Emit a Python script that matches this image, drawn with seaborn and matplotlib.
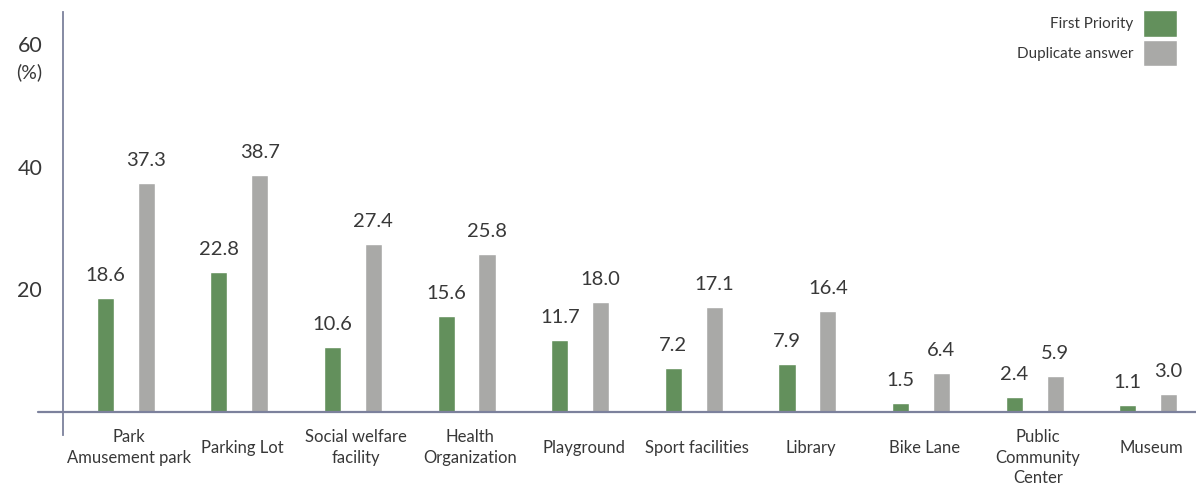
import matplotlib
matplotlib.use("Agg")
import matplotlib.pyplot as plt
import seaborn as sns
import pandas as pd
import numpy as np

# Facility categories and survey shares (%)
categories = [
    "Park\nAmusement park", "Parking Lot", "Social welfare\nfacility",
    "Health\nOrganization", "Playground", "Sport facilities", "Library",
    "Bike Lane", "Public\nCommunity\nCenter", "Museum",
]
first_priority = [18.6, 22.8, 10.6, 15.6, 11.7, 7.2, 7.9, 1.5, 2.4, 1.1]
duplicate_answer = [37.3, 38.7, 27.4, 25.8, 18.0, 17.1, 16.4, 6.4, 5.9, 3.0]
series_names = ["First Priority", "Duplicate answer"]
y_ticks = [20, 40, 60]

GREEN = "#63905c"
GRAY = "#a9a9a7"
AXIS = "#7c819c"
TEXT = "#383838"

sns.set_theme(style="white")
plt.rcParams["font.family"] = ["Lato", "DejaVu Sans"]

df = pd.DataFrame({
    "category": categories * 2,
    "series": [series_names[0]] * len(categories) + [series_names[1]] * len(categories),
    "value": first_priority + duplicate_answer,
})

W, H = 1196, 491
fig = plt.figure(figsize=(W / 100, H / 100), dpi=100)
ax = fig.add_axes([63 / W, 1 - 435 / H, 1 - 63 / W, (435 - 12) / H])

sns.barplot(
    data=df, x="category", y="value", hue="series", order=categories,
    hue_order=series_names, palette=[GREEN, GRAY], width=0.72, gap=0.58,
    saturation=1, ax=ax, errorbar=None,
)

# value labels above each bar
for cont, vals in zip(ax.containers, [first_priority, duplicate_answer]):
    ax.bar_label(cont, labels=[f"{v:.1f}" for v in vals], padding=10,
                 fontsize=14.5, color=TEXT)

ax.set_xlim(-0.552, 9.42)
ax.set_ylim(-3.75, 65.2)

# axes styling
for s in ["top", "right", "bottom"]:
    ax.spines[s].set_visible(False)
ax.spines["left"].set_color(AXIS)
ax.spines["left"].set_linewidth(1.3)
ax.axhline(0, xmin=-25 / 1133, xmax=1, color=AXIS, lw=1.6, clip_on=False)

ax.set_yticks(y_ticks)
ax.set_yticklabels([str(t) for t in y_ticks])
ax.tick_params(axis="y", direction="inout", length=12, width=1.2, color=AXIS,
               labelsize=15.5, labelcolor=TEXT, pad=9)
fig.text(29 / W, 1 - 72 / H, "(%)", ha="center", va="center",
         fontsize=14, color=TEXT)

# category labels below the baseline
ax.set_xticks(range(len(categories)))
ax.set_xticklabels([])
ax.tick_params(axis="x", length=0)
ax.set_xlabel("")
ax.set_ylabel("")
line_h = 22
for i, lab in enumerate(categories):
    n = lab.count("\n") + 1
    top_px = 429 + (line_h / 2 if n == 1 else 0)
    ax.text(i + 0.03, (435 - top_px) / 423, lab, transform=ax.get_xaxis_transform(),
            ha="center", va="top", fontsize=12, color=TEXT, linespacing=1.35,
            clip_on=False)

sns.move_legend(
    ax, "upper right", bbox_to_anchor=(1177 / W, 1 - 10 / H),
    bbox_transform=fig.transFigure, markerfirst=False, frameon=False,
    title=None, fontsize=11, handlelength=2.2, handleheight=2.3,
    labelspacing=0.2, handletextpad=0.65, borderpad=0, borderaxespad=0,
    labelcolor=TEXT,
)

fig.savefig("out.png", dpi=100)
